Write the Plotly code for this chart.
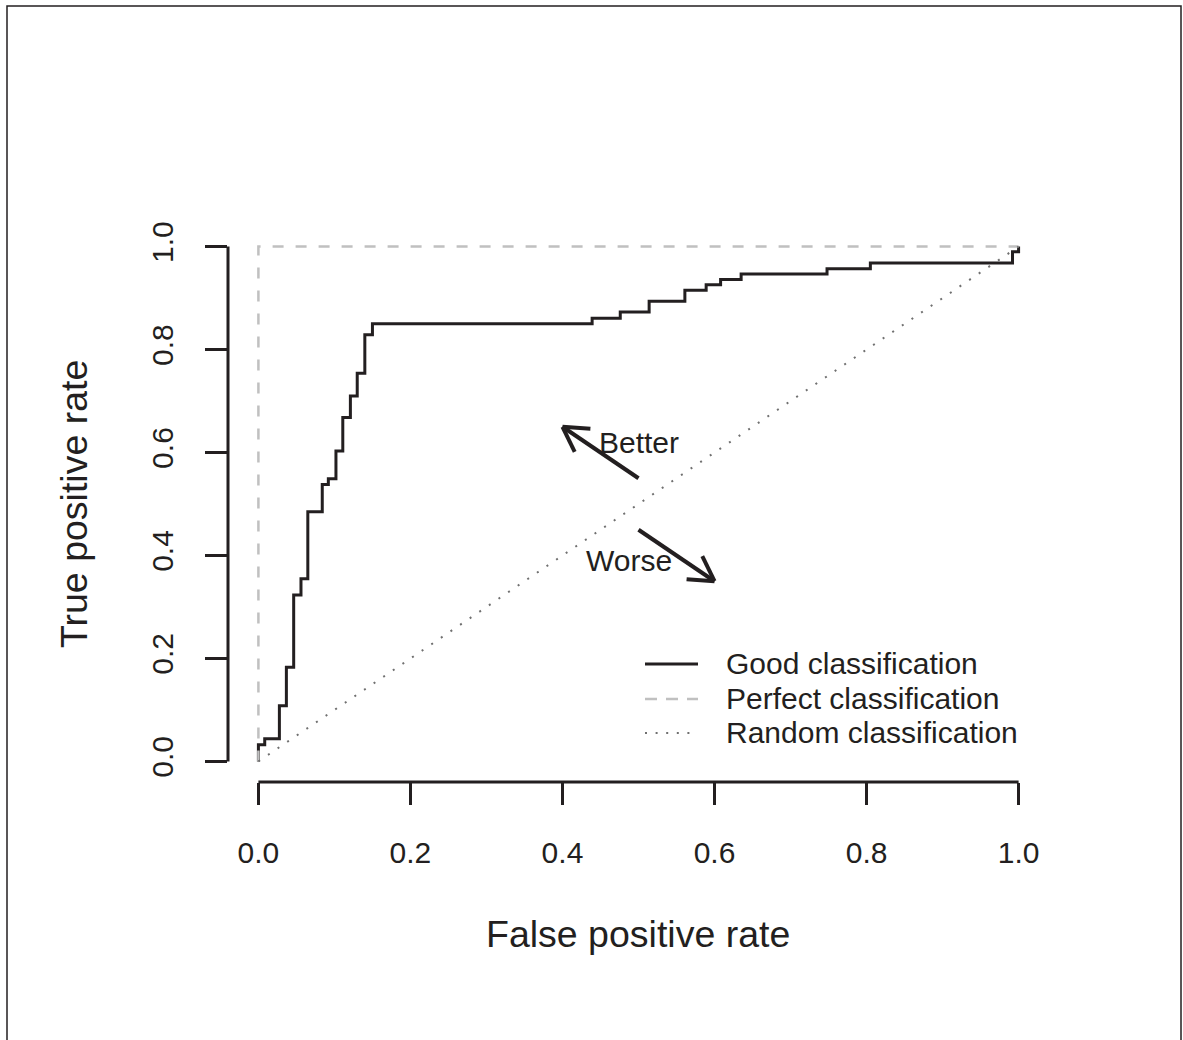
import math
import plotly.graph_objects as go

# ---------------- data ----------------
fpr = [0.0, 0.0, 0.0083, 0.0276, 0.0368, 0.0464, 0.056, 0.065, 0.084, 0.092,
       0.102, 0.111, 0.121, 0.130, 0.140, 0.150, 0.439, 0.476, 0.514, 0.561,
       0.589, 0.608, 0.635, 0.748, 0.805, 0.992, 1.0]
tpr = [0.0, 0.0325, 0.044, 0.108, 0.183, 0.323, 0.355, 0.485, 0.538, 0.549,
       0.603, 0.668, 0.710, 0.754, 0.829, 0.850, 0.861, 0.873, 0.894, 0.915,
       0.926, 0.936, 0.947, 0.957, 0.968, 0.990, 1.0]
perfect_x = [0, 0, 1]
perfect_y = [0, 1, 1]
random_x = [0, 1]
random_y = [0, 1]

tick_vals = [0.0, 0.2, 0.4, 0.6, 0.8, 1.0]
tick_text = ["0.0", "0.2", "0.4", "0.6", "0.8", "1.0"]

arrow_labels = ["Better", "Worse"]
arrow_tail = [(0.5, 0.55), (0.5, 0.45)]
arrow_head = [(0.4, 0.65), (0.6, 0.35)]
arrow_label_pos = [(0.5, 0.619), (0.4875, 0.391)]

legend_labels = ["Good classification", "Perfect classification", "Random classification"]

# ---------------- layout geometry ----------------
FW, FH = 1183, 1040
L, R, T, B = 228, 134, 226, 258
W = FW - L - R
H = FH - T - B
XR = [-0.04, 1.04]
YR = [-0.04, 1.04]
sx = W / (XR[1] - XR[0])
sy = H / (YR[1] - YR[0])

INK = "#231f20"
FONT = "Liberation Sans, Arial, Helvetica, sans-serif"
FS = 30
FS_TITLE = 37.5


def px2paper(px, py):
    return (px - L) / W, (T + H - py) / H


fig = go.Figure()
fig.add_trace(go.Scatter(x=fpr, y=tpr, mode="lines", line=dict(color=INK, width=3, shape="hv"),
                         showlegend=False, hoverinfo="skip"))
fig.add_trace(go.Scatter(x=perfect_x, y=perfect_y, mode="lines",
                         line=dict(color="#c0c0c0", width=2.5, dash="11px,12px"),
                         showlegend=False, hoverinfo="skip"))
fig.add_trace(go.Scatter(x=random_x, y=random_y, mode="lines",
                         line=dict(color="#707070", width=2, dash="2px,9.6px"),
                         showlegend=False, hoverinfo="skip"))

shapes = []
annotations = []

# arrows (shaft + open V head)
ARM = 28
for (x0, y0), (x1, y1) in zip(arrow_tail, arrow_head):
    shapes.append(dict(type="line", xref="x", yref="y", x0=x0, y0=y0, x1=x1, y1=y1,
                       line=dict(color=INK, width=4)))
    ang = math.atan2((y1 - y0) * sy, (x1 - x0) * sx)
    for d in (math.radians(30), -math.radians(30)):
        a = ang + math.pi + d
        ex = x1 + ARM * math.cos(a) / sx
        ey = y1 + ARM * math.sin(a) / sy
        shapes.append(dict(type="line", xref="x", yref="y", x0=x1, y0=y1, x1=ex, y1=ey,
                           line=dict(color=INK, width=4)))

for lab, (tx, ty) in zip(arrow_labels, arrow_label_pos):
    annotations.append(dict(x=tx, y=ty, xref="x", yref="y", text=lab, showarrow=False,
                            xanchor="center", yanchor="middle",
                            font=dict(family=FONT, size=FS, color=INK)))

# R-style detached axis lines
shapes.append(dict(type="line", xref="x", yref="paper", x0=0, x1=1, y0=0, y1=0,
                   line=dict(color=INK, width=3)))
shapes.append(dict(type="line", xref="paper", yref="y", x0=0, x1=0, y0=0, y1=1,
                   line=dict(color=INK, width=3)))

# legend (drawn manually)
leg_rows_y = [664, 699, 733]
leg_styles = [dict(color=INK, width=3), dict(color="#c0c0c0", width=2.5, dash="12px,9px"),
              dict(color="#707070", width=2, dash="2px,8.6px")]
for lab, py, st in zip(legend_labels, leg_rows_y, leg_styles):
    xa, ya = px2paper(645, py)
    xb, _ = px2paper(698, py)
    shapes.append(dict(type="line", xref="paper", yref="paper", x0=xa, x1=xb, y0=ya, y1=ya,
                       line=st))
    xt, yt = px2paper(724, py - 1)
    annotations.append(dict(x=xt, y=yt, xref="paper", yref="paper", text=lab, showarrow=False,
                            xanchor="left", yanchor="middle",
                            font=dict(family=FONT, size=FS, color=INK)))

# axis titles
xt, yt = px2paper(638, 934)
annotations.append(dict(x=xt, y=yt, xref="paper", yref="paper", text="False positive rate",
                        showarrow=False, xanchor="center", yanchor="middle",
                        font=dict(family=FONT, size=FS_TITLE, color=INK)))
xt, yt = px2paper(74, 504)
annotations.append(dict(x=xt, y=yt, xref="paper", yref="paper", text="True positive rate",
                        showarrow=False, xanchor="center", yanchor="middle", textangle=-90,
                        font=dict(family=FONT, size=FS_TITLE, color=INK)))

# outer border
bx0, by0 = px2paper(7, 6)
bx1, by1 = px2paper(1181, 1050)
shapes.append(dict(type="rect", xref="paper", yref="paper", x0=bx0, x1=bx1, y0=by1, y1=by0,
                   line=dict(color=INK, width=1.5)))

axis_common = dict(showgrid=False, zeroline=False, showline=False, ticks="outside",
                   ticklen=22, tickwidth=3, tickcolor=INK, tickmode="array",
                   tickvals=tick_vals, ticktext=tick_text,
                   tickfont=dict(family=FONT, size=FS, color=INK), fixedrange=True)

fig.update_layout(
    width=FW, height=FH,
    margin=dict(l=L, r=R, t=T, b=B, autoexpand=False),
    paper_bgcolor="white", plot_bgcolor="white",
    xaxis=dict(range=XR, ticklabelstandoff=22, **axis_common),
    yaxis=dict(range=YR, tickangle=-90, ticklabelstandoff=20, **axis_common),
    shapes=shapes, annotations=annotations, showlegend=False,
)

fig.write_html("out.html")
